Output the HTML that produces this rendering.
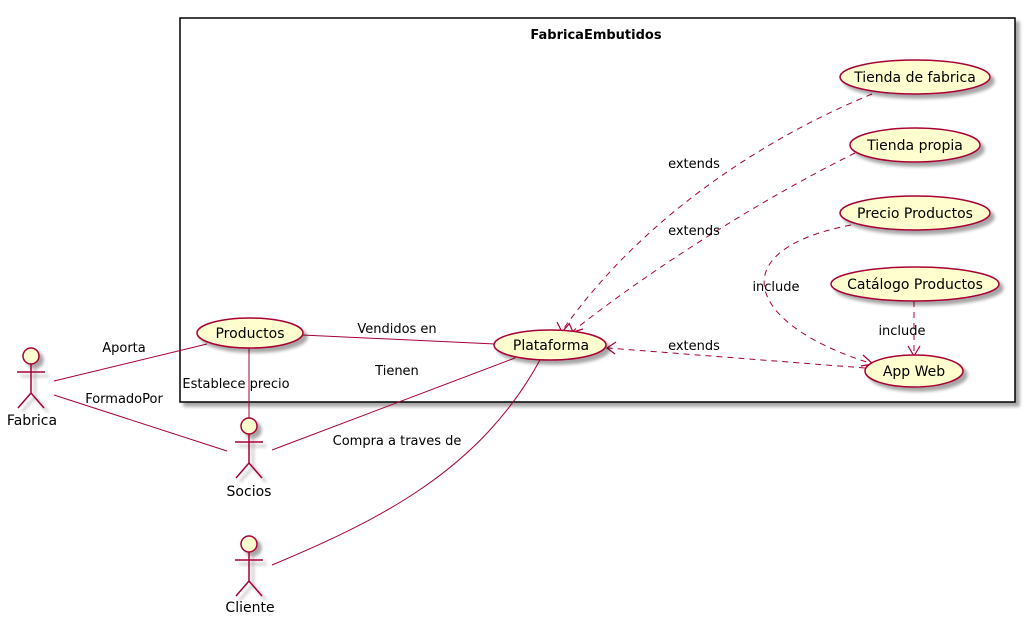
<!DOCTYPE html>
<html><head><meta charset="utf-8"><style>
html,body{margin:0;padding:0;background:#fff;}
svg{display:block;font-family:"DejaVu Sans","Liberation Sans",sans-serif;}
</style></head><body>
<svg width="1023" height="624" viewBox="0 0 1023 624" xmlns="http://www.w3.org/2000/svg">
<defs>
<filter id="sh" x="-20%" y="-20%" width="150%" height="160%"><feGaussianBlur in="SourceAlpha" stdDeviation="1.5"/><feOffset dx="4" dy="4"/><feComponentTransfer><feFuncA type="linear" slope="0.35"/></feComponentTransfer><feMerge><feMergeNode/><feMergeNode in="SourceGraphic"/></feMerge></filter>
</defs>
<rect x="180" y="18" width="835" height="384" fill="#fff" stroke="#000" stroke-width="1.5" filter="url(#sh)"/>
<text x="596" y="39" font-size="13" font-weight="bold" text-anchor="middle">FabricaEmbutidos</text>

<g fill="none" stroke="#A80036" stroke-width="1">
<line x1="54" y1="381" x2="207" y2="344"/>
<line x1="54" y1="395" x2="227" y2="451"/>
<line x1="249" y1="348" x2="249" y2="420"/>
<line x1="302" y1="335" x2="495" y2="344"/>
<line x1="272" y1="450" x2="515" y2="358"/>
<path d="M272,565 C380,520 480,470 540,360"/>
<g stroke-dasharray="6,5">
<path d="M872,94 C760,140 640,220 562,331"/>
<path d="M855,153 C760,200 650,270 573,331"/>
<path d="M865,368 L608,348"/>
<path d="M851,225 C720,250 745,325 873,364"/>
<path d="M914,301 L914,355"/>
</g>
</g>
<g fill="none" stroke="#A80036" stroke-width="1.2">
<path d="M557,322 L562,332 L569,324"/>
<path d="M569,323 L573,332 L583,329"/>
<path d="M616,342 L607,348 L615,354"/>
<path d="M863,355 L873,364 L861,366"/>
<path d="M908,346 L914,356 L920,346"/>
</g>

<g fill="#FEFECE" stroke="#A80036" stroke-width="1.5" filter="url(#sh)">
<ellipse cx="915" cy="77" rx="75" ry="17"/>
<ellipse cx="915" cy="145" rx="65" ry="17"/>
<ellipse cx="915" cy="213" rx="75" ry="17"/>
<ellipse cx="915" cy="284" rx="84" ry="17"/>
<ellipse cx="914" cy="371" rx="49" ry="16"/>
<ellipse cx="550" cy="345" rx="56" ry="15"/>
<ellipse cx="250" cy="333" rx="53" ry="15"/>
</g>
<g font-size="14" text-anchor="middle" fill="#000">
<text x="915" y="82">Tienda de fabrica</text>
<text x="915" y="150">Tienda propia</text>
<text x="915" y="218">Precio Productos</text>
<text x="915" y="289">Catálogo Productos</text>
<text x="914" y="376">App Web</text>
<text x="551" y="350">Plataforma</text>
<text x="250" y="338">Productos</text>
</g>

<g fill="#FEFECE" stroke="#A80036" stroke-width="1.5" filter="url(#sh)">
<g transform="translate(31,356)"><circle cx="0" cy="0" r="8"/><path d="M0,8 V37 M-14,16 H14 M0,37 L-13,52 M0,37 L13,52" fill="none"/></g>
<g transform="translate(249,426)"><circle cx="0" cy="0" r="8"/><path d="M0,8 V37 M-14,16 H14 M0,37 L-13,52 M0,37 L13,52" fill="none"/></g>
<g transform="translate(249,544)"><circle cx="0" cy="0" r="8"/><path d="M0,8 V37 M-14,16 H14 M0,37 L-13,52 M0,37 L13,52" fill="none"/></g>
</g>
<g font-size="14" text-anchor="middle" fill="#000">
<text x="32" y="425">Fabrica</text>
<text x="249" y="496">Socios</text>
<text x="250" y="612">Cliente</text>
</g>

<g font-size="13" text-anchor="middle" fill="#000">
<text x="124" y="352">Aporta</text>
<text x="124" y="403">FormadoPor</text>
<text x="236" y="388">Establece precio</text>
<text x="397" y="333">Vendidos en</text>
<text x="397" y="375">Tienen</text>
<text x="397" y="445">Compra a traves de</text>
<text x="694" y="168">extends</text>
<text x="694" y="235">extends</text>
<text x="694" y="350">extends</text>
<text x="776" y="291">include</text>
<text x="902" y="335">include</text>
</g>
</svg>
</body></html>
